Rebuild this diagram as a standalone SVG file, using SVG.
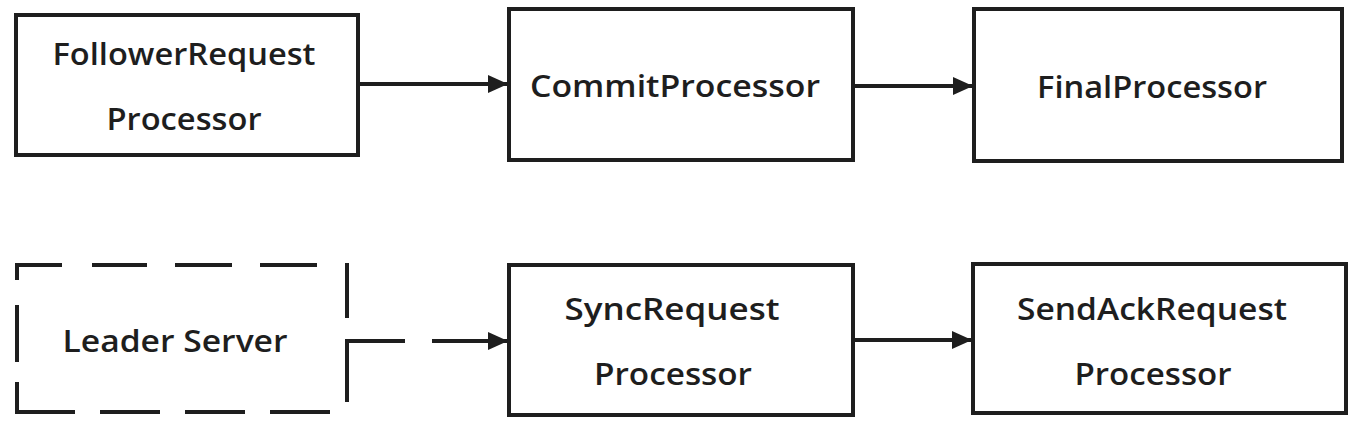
<svg xmlns="http://www.w3.org/2000/svg" width="1368" height="426" viewBox="0 0 1368 426">
<defs>
<marker id="ah" markerWidth="20" markerHeight="18" refX="19" refY="9" orient="auto" markerUnits="userSpaceOnUse" viewBox="0 0 20 18">
<path d="M0,0 L20,9 L0,18 Z" fill="#1e1e1e"/>
</marker>
<style>
.box{fill:#ffffff;stroke:#1e1e1e;stroke-width:4}
.dash{fill:none;stroke:#1e1e1e;stroke-width:4;stroke-linecap:butt}
.lbl{font-family:"Open Sans","Noto Sans",sans-serif;font-size:30px;font-weight:600;fill:#1e1e1e;text-anchor:middle}
.edge{stroke:#1e1e1e;stroke-width:4;fill:none}
</style>
</defs>
<rect width="1368" height="426" fill="#ffffff"/>
<g id="follower">
<rect class="box" x="16" y="15" width="342" height="140"/>
<text class="lbl" x="184" y="65" textLength="263" lengthAdjust="spacingAndGlyphs">FollowerRequest</text>
<text class="lbl" x="184" y="130" textLength="155" lengthAdjust="spacingAndGlyphs">Processor</text>
</g>
<g id="commit">
<rect class="box" x="509" y="9" width="344" height="151"/>
<text class="lbl" x="675" y="97" textLength="290" lengthAdjust="spacingAndGlyphs">CommitProcessor</text>
</g>
<g id="final">
<rect class="box" x="974" y="9" width="368" height="152"/>
<text class="lbl" x="1152" y="98" textLength="230" lengthAdjust="spacingAndGlyphs">FinalProcessor</text>
</g>
<g id="leader">
<path class="dash" d="M16,265 H62 M92,265 H147 M175,265 H232 M260,265 H317 M347,263 V318 M347,343 V402 M16,412 H75 M100,412 H160 M185,412 H245 M270,412 H330 M17,263 V280 M17,305 V362 M17,382 V414"/>
<text class="lbl" x="175" y="352" textLength="225" lengthAdjust="spacingAndGlyphs">Leader Server</text>
</g>
<g id="sync">
<rect class="box" x="509" y="265" width="344" height="150"/>
<text class="lbl" x="672" y="320" textLength="215" lengthAdjust="spacingAndGlyphs">SyncRequest</text>
<text class="lbl" x="673" y="385" textLength="158" lengthAdjust="spacingAndGlyphs">Processor</text>
</g>
<g id="sendack">
<rect class="box" x="973" y="264" width="373" height="149"/>
<text class="lbl" x="1152" y="320" textLength="270" lengthAdjust="spacingAndGlyphs">SendAckRequest</text>
<text class="lbl" x="1153" y="385" textLength="157" lengthAdjust="spacingAndGlyphs">Processor</text>
</g>
<g id="connectors">
<line class="edge" x1="358" y1="84" x2="507" y2="84" marker-end="url(#ah)"/>
<line class="edge" x1="853" y1="86" x2="972" y2="86" marker-end="url(#ah)"/>
<path class="edge" d="M345,341 H405 M432,341 H507" marker-end="url(#ah)"/>
<line class="edge" x1="853" y1="340" x2="971" y2="340" marker-end="url(#ah)"/>
</g>
</svg>
